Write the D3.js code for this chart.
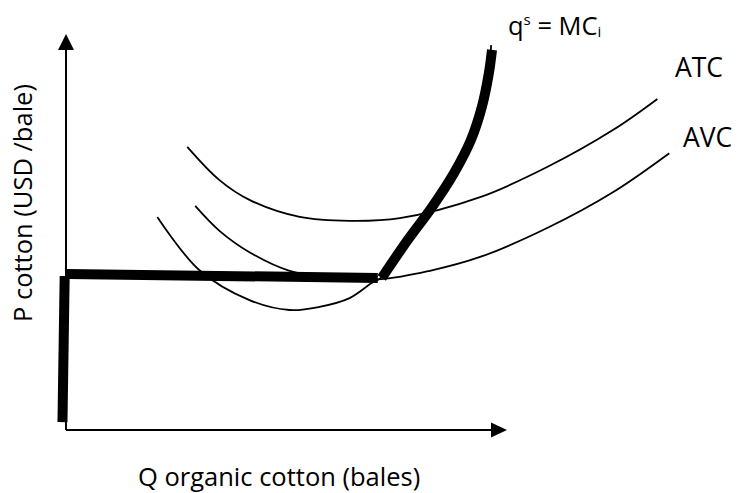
<!DOCTYPE html>
<html>
<head>
<meta charset="utf-8">
<script src="https://cdn.jsdelivr.net/npm/d3@7/dist/d3.min.js"></script>
<style>
  html, body { margin: 0; padding: 0; background: #fff; }
  svg { display: block; }
  text { font-family: "Open Sans", "Liberation Sans", sans-serif; fill: #000; }
</style>
</head>
<body>
<svg id="chart" width="742" height="493"></svg>
<script>
// ---- data (abstract units: quantity 0..100 along the x axis, price 0..100 along the y axis)
const atcQ = [27.5, 34.8, 41.6, 53.0, 64.3, 75.7, 93.9, 109.1, 124.1, 134.1];
const atcP = [71.5, 63.1, 58.1, 53.8, 52.8, 53.5, 58.8, 66.4, 75.8, 83.6];

const avcQ = [29.3, 34.8, 41.6, 50.7, 60.9, 71.6, 82.5, 93.9, 109.1, 124.1, 136.8];
const avcP = [56.6, 50.3, 44.9, 40.2, 38.6, 38.1, 40.2, 43.7, 51.0, 60.1, 69.9];

const mcQ = [20.7, 30.2, 41.6, 50.7, 57.5, 64.3, 69.3, 71.6, 77.5, 83.0, 88.0, 91.8, 94.3, 95.9, 96.4];
const mcP = [53.8, 40.4, 32.8, 30.3, 31.1, 33.3, 37.1, 38.6, 48.0, 56.3, 64.9, 73.2, 81.6, 90.2, 97.2];

// firm supply curve (thick): shutdown segment, flat segment at min AVC, then MC above AVC
const supVertQ = [-0.8, -0.3];
const supVertP = [2.0, 38.9];
const supFlatQ = [0.2, 70.7];
const supFlatP = [39.4, 38.4];
const supMcQ = [71.6, 77.5, 83.0, 88.0, 91.8, 94.3, 95.9, 96.6];
const supMcP = [38.4, 48.0, 56.3, 64.9, 73.2, 81.6, 90.2, 96.0];

const axisLabels = { x: "Q organic cotton (bales)", y: "P cotton (USD /bale)" };
const curveLabels = ["ATC", "AVC"];

// ---- drawing
const svg = d3.select("#chart");
const x = d3.scaleLinear().domain([0, 100]).range([66, 507]);
const y = d3.scaleLinear().domain([0, 100]).range([430, 34]);

const zip = (qs, ps) => qs.map((q, i) => [q, ps[i]]);
const smooth = d3.line().x(d => x(d[0])).y(d => y(d[1])).curve(d3.curveCatmullRom.alpha(0.5));
const straight = d3.line().x(d => x(d[0])).y(d => y(d[1]));

// axes
svg.append("line")
  .attr("x1", x(0)).attr("y1", y(0)).attr("x2", x(0)).attr("y2", y(100) + 14)
  .attr("stroke", "#000").attr("stroke-width", 2);
svg.append("path")
  .attr("d", `M${x(0)},${y(100)} L${x(0) - 8},${y(100) + 16} L${x(0) + 8},${y(100) + 16} Z`)
  .attr("fill", "#000");
svg.append("line")
  .attr("x1", x(0)).attr("y1", y(0)).attr("x2", x(100) - 14).attr("y2", y(0))
  .attr("stroke", "#000").attr("stroke-width", 2);
svg.append("path")
  .attr("d", `M${x(100)},${y(0)} L${x(100) - 16},${y(0) - 7.5} L${x(100) - 16},${y(0) + 7.5} Z`)
  .attr("fill", "#000");

// thin cost curves
[[atcQ, atcP], [avcQ, avcP], [mcQ, mcP]].forEach(([q, p]) => {
  svg.append("path")
    .attr("d", smooth(zip(q, p)))
    .attr("fill", "none").attr("stroke", "#000").attr("stroke-width", 1.8);
});

// thick supply curve
svg.append("path").attr("d", straight(zip(supVertQ, supVertP)))
  .attr("fill", "none").attr("stroke", "#000").attr("stroke-width", 10);
svg.append("path").attr("d", straight(zip(supFlatQ, supFlatP)))
  .attr("fill", "none").attr("stroke", "#000").attr("stroke-width", 10);
svg.append("path").attr("d", smooth(zip(supMcQ, supMcP)))
  .attr("fill", "none").attr("stroke", "#000").attr("stroke-width", 10);

// labels
const fs = 25.5;
const mcLabel = svg.append("text").attr("x", 508).attr("y", 35).attr("font-size", fs);
mcLabel.append("tspan").text("q");
mcLabel.append("tspan").attr("font-size", 15).attr("dy", -10).text("s");
mcLabel.append("tspan").attr("dy", 10).text(" = MC");
mcLabel.append("tspan").attr("font-size", 15).attr("dy", 2).text("i");

svg.append("text").attr("x", 675).attr("y", 77).attr("font-size", fs + 1).text(curveLabels[0]);
svg.append("text").attr("x", 683).attr("y", 147).attr("font-size", fs + 1).text(curveLabels[1]);

svg.append("text").attr("x", 138).attr("y", 486).attr("font-size", fs).text(axisLabels.x);
svg.append("text")
  .attr("transform", "translate(32,322) rotate(-90)")
  .attr("font-size", fs).text(axisLabels.y);
</script>
</body>
</html>
